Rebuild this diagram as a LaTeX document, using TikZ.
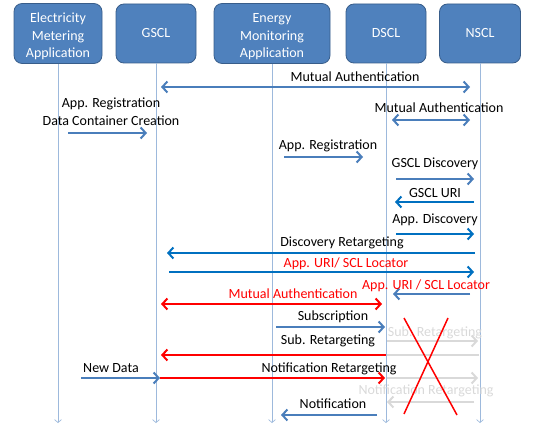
\documentclass[tikz,border=0pt]{standalone}
\usepackage{fontspec}
\setmainfont{Carlito}
\usetikzlibrary{arrows.meta}
\definecolor{boxblue}{HTML}{4F81BD}
\definecolor{boxedge}{HTML}{385D8A}
\definecolor{msgblue}{HTML}{4A7EBB}
\definecolor{darkblue}{HTML}{0070C0}
\definecolor{lifeblue}{HTML}{9DB9DC}
\definecolor{ghost}{HTML}{D9D9D9}
\newcommand{\topstrut}{\rule{0pt}{16pt}}
\tikzset{
    entity/.style={draw=boxedge, fill=boxblue, rounded corners=8pt, text=white, line width=0.8pt,
        minimum height=59pt, align=center, font=\fontsize{14}{17.5}\selectfont},
    lifeline/.style={draw=lifeblue, line width=0.7pt, -{Straight Barb[length=3pt,width=7pt]}},
    tip/.style={-{Straight Barb[length=5pt,width=11pt]}},
    pair/.style={{Straight Barb[length=5pt,width=11pt]}-{Straight Barb[length=5pt,width=11pt]}},
    bluemsg/.style={draw=msgblue, line width=2pt, tip},
    bluepair/.style={draw=msgblue, line width=2pt, pair},
    darkmsg/.style={draw=darkblue, line width=2pt, tip},
    redmsg/.style={draw=red, line width=2pt, tip},
    redpair/.style={draw=red, line width=2pt, pair},
    ghostmsg/.style={draw=ghost, line width=2pt, tip},
    ghostbar/.style={draw=ghost, line width=2pt},
    lbl/.style={anchor=base, inner sep=0pt, font=\fontsize{14}{18}\selectfont},
}
\begin{document}
\begin{tikzpicture}[x=1pt, y=-1pt]
\useasboundingbox (0,0) rectangle (544,425);

% entities
\node[entity, minimum width=88pt] (emapp) at (58,33.5) {\topstrut Electricity\\Metering\\Application};
\node[entity, minimum width=80pt] (gscl) at (156,33.5) {GSCL};
\node[entity, minimum width=116pt] (emonapp) at (272,33.5) {\topstrut Energy\\Monitoring\\Application};
\node[entity, minimum width=80pt] (dscl) at (386,33.5) {DSCL};
\node[entity, minimum width=81pt] (nscl) at (480,33.5) {NSCL};

% lifelines
\foreach \e in {emapp,gscl,emonapp,dscl,nscl}
{
    \coordinate (\e end) at (\e.south |- 0,423);
    \draw[lifeline] (\e.south) -- (\e end);
}

% messages
\foreach \n/\y/\xa/\xb/\sty in {
    1/87/161/470/bluepair, 2/133/68/147/bluemsg, 3/120/392/470/bluepair,
    4/157/284/363/bluemsg, 5/179/396/474/bluemsg, 6/202/474/395/darkmsg,
    7/234/396/474/darkmsg, 8/253/475/167/darkmsg, 9/272/169/474/darkmsg,
    10/294/470/393/bluemsg, 11/304/161/382/redpair, 12/327/276/385/bluemsg,
    13/341/387/478/ghostmsg, 14/355/479/387/ghostbar, 15/355/386/161/redmsg,
    16/378/81/160/bluemsg, 17/378/160/385/redmsg, 18/378/387/478/ghostmsg,
    19/402/474/387/ghostmsg, 20/415/377/281/bluemsg}
{
    \coordinate (m\n a) at (\xa,\y);
    \coordinate (m\n b) at (\xb,\y);
    \draw[\sty] (m\n a) -- (m\n b);
}

% labels
\node[lbl] (auth1) at (355,82) {Mutual Authentication};
\node[lbl, align=center] (appreg1) at (111,126) {App. Registration\\Data Container Creation};
\node[lbl] (auth2) at (439,113) {Mutual Authentication};
\node[lbl] (appreg2) at (328,150) {App. Registration};
\node[lbl] (gdisc) at (435,168) {GSCL Discovery};
\node[lbl] (guri) at (435,197) {GSCL URI};
\node[lbl] (adisc) at (435,224) {App. Discovery};
\node[lbl] (discret) at (342,247) {Discovery Retargeting};
\node[lbl, text=red] (loc1) at (346,267) {App. URI/ SCL Locator};
\node[lbl, text=red] (loc2) at (426,289) {App. URI / SCL Locator};
\node[lbl, text=red] (auth3) at (293,298) {Mutual Authentication};
\node[lbl] (subs) at (333,320) {Subscription};
\node[lbl, text=ghost] (subret2) at (435,336) {Sub. Retargeting};
\node[lbl] (subret1) at (328,344) {Sub. Retargeting};
\node[lbl] (newdata) at (111,372) {New Data};
\node[lbl] (notret1) at (329,372) {Notification Retargeting};
\node[lbl, text=ghost] (notret2) at (426,394) {Notification Retargeting};
\node[lbl] (notif) at (333,408) {Notification};

% cross over the NSCL path
\coordinate (xa) at (404,318);
\coordinate (xb) at (457,415);
\coordinate (xc) at (448,318);
\coordinate (xd) at (404,414);
\draw[red, line width=1.5pt] (xa) -- (xb) (xc) -- (xd);
\end{tikzpicture}
\end{document}
